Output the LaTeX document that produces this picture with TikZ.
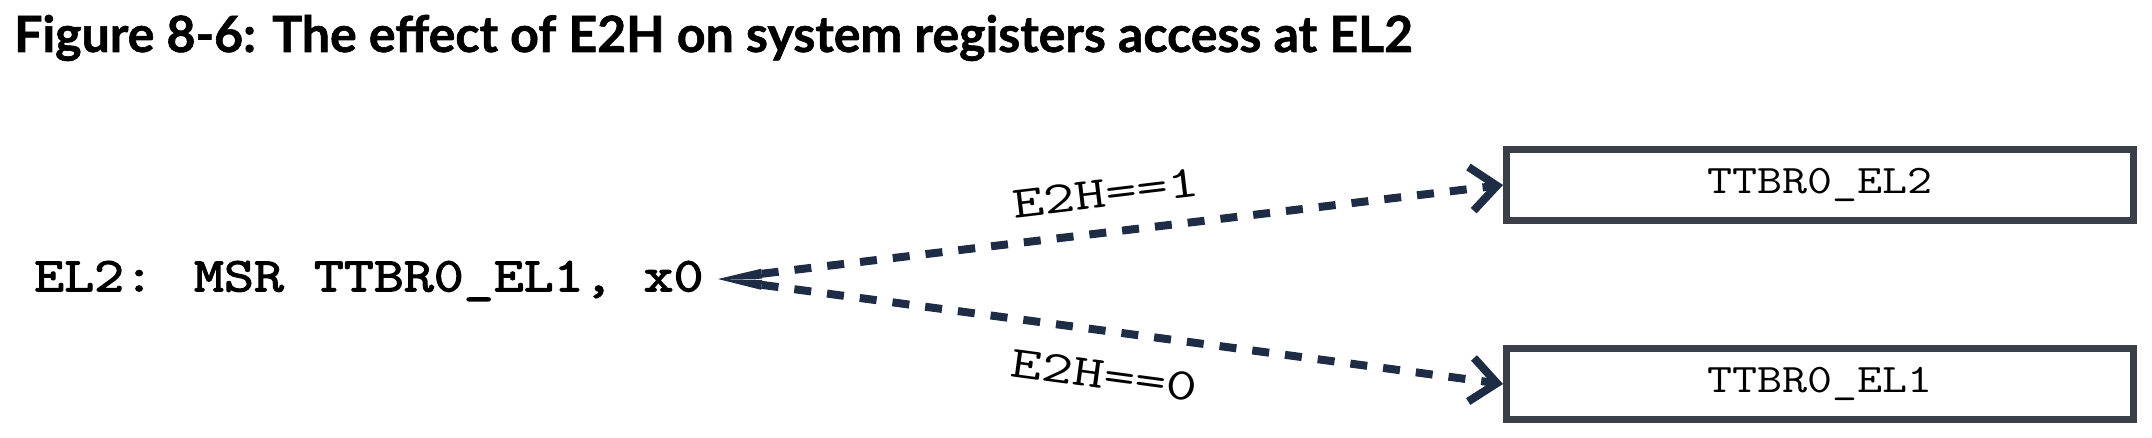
\documentclass[tikz,border=0pt]{standalone}
\usepackage{fontspec}
\setmainfont{Lato}
\newfontfamily\titlefont{Lato}[UprightFeatures={FakeBold=1.2},BoldFeatures={FakeBold=1.2}]
\newfontfamily\cour{Latin Modern Mono}[FakeStretch=1.2]
\newfontfamily\courwide{Latin Modern Mono}[FakeStretch=1.35]
\newfontfamily\courbold{Latin Modern Mono}[FakeStretch=1.2,FakeBold=2.5]
\usetikzlibrary{arrows.meta}
\definecolor{navy}{HTML}{1E2D45}
\definecolor{boxgray}{HTML}{3B4048}
\begin{document}
\begin{tikzpicture}[x=1pt,y=-1pt,
  regbox/.style={draw=boxgray,line width=7pt,minimum width=627pt,minimum height=71pt,inner sep=0pt,
     font=\fontsize{40.5}{41}\selectfont\cour},
  conn/.style={draw=navy,line width=8pt,dash pattern=on 17pt off 16pt,
     {Triangle[length=44pt,width=10pt,line width=0pt,fill=navy]}-{Straight Barb[length=26pt,width=44pt,line width=8pt]}},
  lbl/.style={font=\fontsize{45}{45}\selectfont\courwide,inner sep=0pt,sloped,midway}]
\useasboundingbox (0,0) rectangle (2152,438);
\node[anchor=base west,inner sep=0pt,font=\fontsize{50}{50}\selectfont\titlefont\bfseries] (title) at (14,52)
  {Figure 8-6: The effect of E2H on system registers access at EL2};
\node[anchor=west,inner sep=0pt,font=\fontsize{48.5}{48.5}\selectfont\courbold] (cmd) at (34,281)
  {EL2: MSR TTBR0\_EL1, x0};
\node[regbox] (el2) at (1820,185) {TTBR0\_EL2};
\node[regbox] (el1) at (1820,384) {TTBR0\_EL1};
\coordinate (start) at (718,279);
\draw[conn] (start) -- (el2.west) node[lbl,above=21pt] {E2H==1};
\draw[conn] (start) -- (el1.west) node[lbl,below=26pt] {E2H==0};
\end{tikzpicture}
\end{document}
